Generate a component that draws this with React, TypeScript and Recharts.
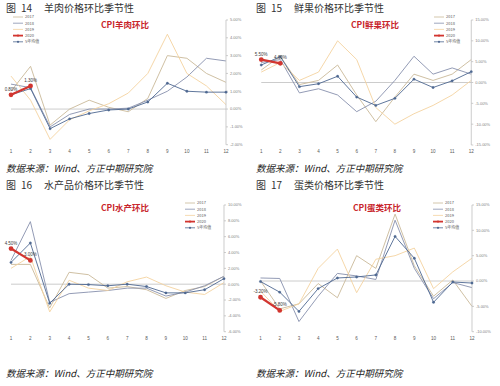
import React from 'react';
import { LineChart, Line, XAxis, YAxis, ReferenceLine, LabelList } from 'recharts';

const months = ['1', '2', '3', '4', '5', '6', '7', '8', '9', '10', '11', '12'];
const seriesNames = ['2017', '2018', '2019', '2020', '5年均值'];

// 羊肉
const lamb2017 = [1.0, 2.4, -0.9, 0.0, 0.5, 0.1, -0.15, 0.6, 3.0, 2.85, 2.0, 1.5];
const lamb2018 = [1.4, 1.2, -1.0, -0.3, 0.0, 0.0, 0.05, 0.5, 1.0, 1.8, 2.85, 2.7];
const lamb2019 = [1.85, 0.5, -1.7, -0.6, -0.1, 0.3, 0.9, 2.0, 4.2, 2.0, 1.3, 0.25];
const lamb2020 = [0.8, 1.3];
const lambAvg = [0.8, 1.15, -1.1, -0.55, -0.25, -0.05, 0.0, 0.4, 1.45, 1.0, 0.95, 0.95];
const lambTicks = [-2, -1, 0, 1, 2, 3, 4, 5];

// 鲜果
const fruit2017 = [3.0, 6.3, -0.5, 0.5, 4.2, -3.0, -9.4, -3.5, 2.0, 0.5, 2.0, 5.5];
const fruit2018 = [4.8, 5.5, -2.5, -1.5, -3.0, -7.0, -4.5, 0.5, 6.3, 2.0, 3.5, 2.0];
const fruit2019 = [2.5, 4.8, 0.5, 2.5, 10.0, 5.5, -6.0, -10.0, -7.5, -5.5, -3.0, 0.5];
const fruit2020 = [5.5, 4.6];
const fruitAvg = [4.2, 6.2, -1.0, -0.3, 1.5, -3.5, -5.5, -3.8, 0.8, -1.2, 0.4, 2.6];
const fruitTicks = [-15, -10, -5, 0, 5, 10, 15];

// 水产
const aqua2017 = [2.5, 2.5, -3.0, 1.5, 1.2, -0.5, -0.3, -0.7, -1.8, -0.8, -0.3, 1.0];
const aqua2018 = [3.0, 7.9, -2.3, -1.2, -1.0, -0.8, -0.5, -0.5, -1.5, -1.0, -0.2, 1.0];
const aqua2019 = [2.0, 3.5, -3.5, 0.5, -0.5, -0.8, 0.3, 0.9, -0.2, -1.0, -1.3, 0.2];
const aqua2020 = [4.5, 3.0];
const aquaAvg = [2.75, 5.2, -2.4, 0.0, -0.05, -0.2, 0.0, -0.3, -1.1, -1.1, -0.7, 0.7];
const aquaTicks = [-6, -4, -2, 0, 2, 4, 6, 8, 10];

// 蛋类
const egg2017 = [0.0, -5.5, -4.5, -0.5, -3.3, 5.0, 2.5, 13.2, 3.0, -3.0, 0.2, -5.0];
const egg2018 = [0.6, 0.5, -8.0, -3.0, 1.5, 1.0, 0.3, 12.0, 2.5, -3.5, -0.3, -1.3];
const egg2019 = [-2.0, -6.0, -4.5, 2.5, 6.3, -2.3, 4.3, 5.0, 6.5, -1.5, 1.8, 4.5];
const egg2020 = [-3.2, -5.8];
const eggAvg = [-0.1, -2.2, -6.0, -1.5, 0.6, 0.8, 1.2, 8.8, 4.5, -4.2, -0.2, -0.4];
const eggTicks = [-10, -5, 0, 5, 10, 15];

const COLORS = {
  y2017: '#C9B998',
  y2018: '#8790AD',
  y2019: '#F4D29F',
  y2020: '#D2352F',
  avg: '#4E6891',
};

const CJK = '"Noto Sans CJK SC", "Noto Sans", sans-serif';
const LAT = '"Liberation Sans", Arial, sans-serif';

function buildRows(s17: number[], s18: number[], s19: number[], s20: number[], avg: number[]) {
  return months.map((m, i) => ({
    m,
    y2017: s17[i],
    y2018: s18[i],
    y2019: s19[i],
    y2020: i < s20.length ? s20[i] : null,
    avg: avg[i],
  }));
}

type Plot = { left: number; right: number; top: number; bottom: number };

function Legend({ x, y }: { x: number; y: number }) {
  const keys = ['y2017', 'y2018', 'y2019', 'y2020', 'avg'] as const;
  return (
    <svg style={{ position: 'absolute', left: x, top: y - 3, overflow: 'visible' }} width={40} height={34}>
      {keys.map((k, i) => {
        const cy = 3 + i * 6.2;
        const isRed = k === 'y2020';
        const isAvg = k === 'avg';
        return (
          <g key={k}>
            <line x1={0} x2={10} y1={cy} y2={cy} stroke={COLORS[k]} strokeWidth={isRed ? 1.8 : 0.8} />
            {(isRed || isAvg) && <circle cx={5} cy={cy} r={1.1} fill={COLORS[k]} />}
            <text x={12} y={cy + 1.4} fontSize={4} fill="#595959" fontFamily={CJK}>
              {seriesNames[i]}
            </text>
          </g>
        );
      })}
    </svg>
  );
}

function SeasonChart(props: {
  left: number;
  top: number;
  plot: Plot;
  domain: [number, number];
  ticks: number[];
  rows: any[];
  cpiTitle: string;
  cpiX: number;
  cpiY: number;
  legendX: number;
  legendY: number;
}) {
  const { left, top, plot, domain, ticks, rows, cpiTitle, cpiX, cpiY, legendX, legendY } = props;
  const yW = 26;
  const width = plot.right + yW + 4;
  const xH = 14;
  const height = plot.bottom + xH + 3;
  return (
    <div style={{ position: 'absolute', left, top, width, height }}>
      <LineChart
        width={width}
        height={height}
        data={rows}
        margin={{ top: plot.top, left: plot.left, right: width - plot.right - yW, bottom: height - plot.bottom - xH }}
      >
        <XAxis
          dataKey="m"
          axisLine={false}
          tickLine={false}
          tickSize={4}
          tickMargin={1}
          height={xH}
          interval={0}
          tick={{ fontSize: 4.6, fill: '#595959', fontFamily: LAT }}
        />
        <YAxis
          orientation="right"
          width={yW}
          domain={domain}
          ticks={ticks}
          interval={0}
          axisLine={{ stroke: '#BFBFBF', strokeWidth: 0.8 }}
          tickLine={{ stroke: '#BFBFBF', strokeWidth: 0.8 }}
          tickSize={2}
          tickMargin={2}
          tick={{ fontSize: 4, fill: '#7F7F7F', fontFamily: LAT, textAnchor: 'start' }}
          tickFormatter={(v: number) => `${v.toFixed(2)}%`}
        />
        <ReferenceLine y={0} stroke="#BFBFBF" strokeWidth={0.8} />
        <Line dataKey="y2017" stroke={COLORS.y2017} strokeWidth={0.9} dot={false} isAnimationActive={false} />
        <Line dataKey="y2018" stroke={COLORS.y2018} strokeWidth={0.9} dot={false} isAnimationActive={false} />
        <Line dataKey="y2019" stroke={COLORS.y2019} strokeWidth={0.9} dot={false} isAnimationActive={false} />
        <Line
          dataKey="avg"
          stroke={COLORS.avg}
          strokeWidth={0.9}
          dot={{ r: 1.2, fill: COLORS.avg, stroke: COLORS.avg, strokeWidth: 0.3 }}
          isAnimationActive={false}
        />
        <Line
          dataKey="y2020"
          stroke={COLORS.y2020}
          strokeWidth={2.2}
          dot={{ r: 1.3, fill: COLORS.y2020, stroke: COLORS.y2020 }}
          connectNulls={false}
          isAnimationActive={false}
        >
          <LabelList
            dataKey="y2020"
            position="top"
            offset={4}
            fontSize={4.5}
            fill="#404040"
            fontFamily={LAT}
            formatter={(v: any) => (v == null ? '' : `${Number(v).toFixed(2)}%`)}
          />
        </Line>
      </LineChart>
      <div
        style={{
          position: 'absolute',
          left: cpiX - 40,
          top: cpiY - 6,
          width: 80,
          textAlign: 'center',
          fontSize: 8.5,
          lineHeight: '12px',
          fontWeight: 700,
          color: '#C8252C',
          fontFamily: CJK,
          whiteSpace: 'nowrap',
        }}
      >
        {cpiTitle}
      </div>
      <Legend x={legendX} y={legendY} />
    </div>
  );
}

function Caption({ x, y, num, text }: { x: number; y: number; num: string; text: string }) {
  return (
    <div
      style={{
        position: 'absolute',
        left: x,
        top: y - 7,
        fontSize: 10,
        lineHeight: '14px',
        color: '#333',
        fontFamily: CJK,
        whiteSpace: 'nowrap',
      }}
    >
      <span>图</span>
      <span style={{ marginLeft: 5 }}>{num}</span>
      <span style={{ marginLeft: 12 }}>{text}</span>
    </div>
  );
}

function Source({ x, y }: { x: number; y: number }) {
  return (
    <div
      style={{
        position: 'absolute',
        left: x,
        top: y - 7,
        fontSize: 9.5,
        lineHeight: '14px',
        color: '#222',
        fontStyle: 'italic',
        fontFamily: CJK,
        whiteSpace: 'nowrap',
      }}
    >
      数据来源：Wind、方正中期研究院
    </div>
  );
}

export default function App() {
  const lambRows = buildRows(lamb2017, lamb2018, lamb2019, lamb2020, lambAvg);
  const fruitRows = buildRows(fruit2017, fruit2018, fruit2019, fruit2020, fruitAvg);
  const aquaRows = buildRows(aqua2017, aqua2018, aqua2019, aqua2020, aquaAvg);
  const eggRows = buildRows(egg2017, egg2018, egg2019, egg2020, eggAvg);
  return (
    <div style={{ position: 'absolute', left: 0, top: 0, width: 500, height: 386, background: '#fff', overflow: 'hidden' }}>
      <Caption x={6} y={7.5} num="14" text="羊肉价格环比季节性" />
      <Caption x={256} y={7.5} num="15" text="鲜果价格环比季节性" />
      <Caption x={6} y={185} num="16" text="水产品价格环比季节性" />
      <Caption x={256} y={185} num="17" text="蛋类价格环比季节性" />

      <SeasonChart
        left={0}
        top={0}
        plot={{ left: 11, right: 226, top: 20, bottom: 144.7 }}
        domain={[-2, 5]}
        ticks={lambTicks}
        rows={lambRows}
        cpiTitle="CPI羊肉环比"
        cpiX={125}
        cpiY={24}
        legendX={13}
        legendY={17}
      />
      <SeasonChart
        left={250}
        top={0}
        plot={{ left: 11.25, right: 221.25, top: 20, bottom: 145 }}
        domain={[-15, 15]}
        ticks={fruitTicks}
        rows={fruitRows}
        cpiTitle="CPI鲜果环比"
        cpiX={125}
        cpiY={24}
        legendX={184}
        legendY={17}
      />
      <SeasonChart
        left={0}
        top={190}
        plot={{ left: 11, right: 224, top: 15, bottom: 141.7 }}
        domain={[-6, 10]}
        ticks={aquaTicks}
        rows={aquaRows}
        cpiTitle="CPI水产环比"
        cpiX={125}
        cpiY={17}
        legendX={185}
        legendY={13.3}
      />
      <SeasonChart
        left={250}
        top={190}
        plot={{ left: 10.5, right: 222, top: 15, bottom: 141.7 }}
        domain={[-10, 15]}
        ticks={eggTicks}
        rows={eggRows}
        cpiTitle="CPI蛋类环比"
        cpiX={127}
        cpiY={17}
        legendX={183}
        legendY={12.7}
      />

      <Source x={6} y={168} />
      <Source x={256} y={168} />
      <Source x={6} y={373} />
      <Source x={256} y={373} />
    </div>
  );
}
